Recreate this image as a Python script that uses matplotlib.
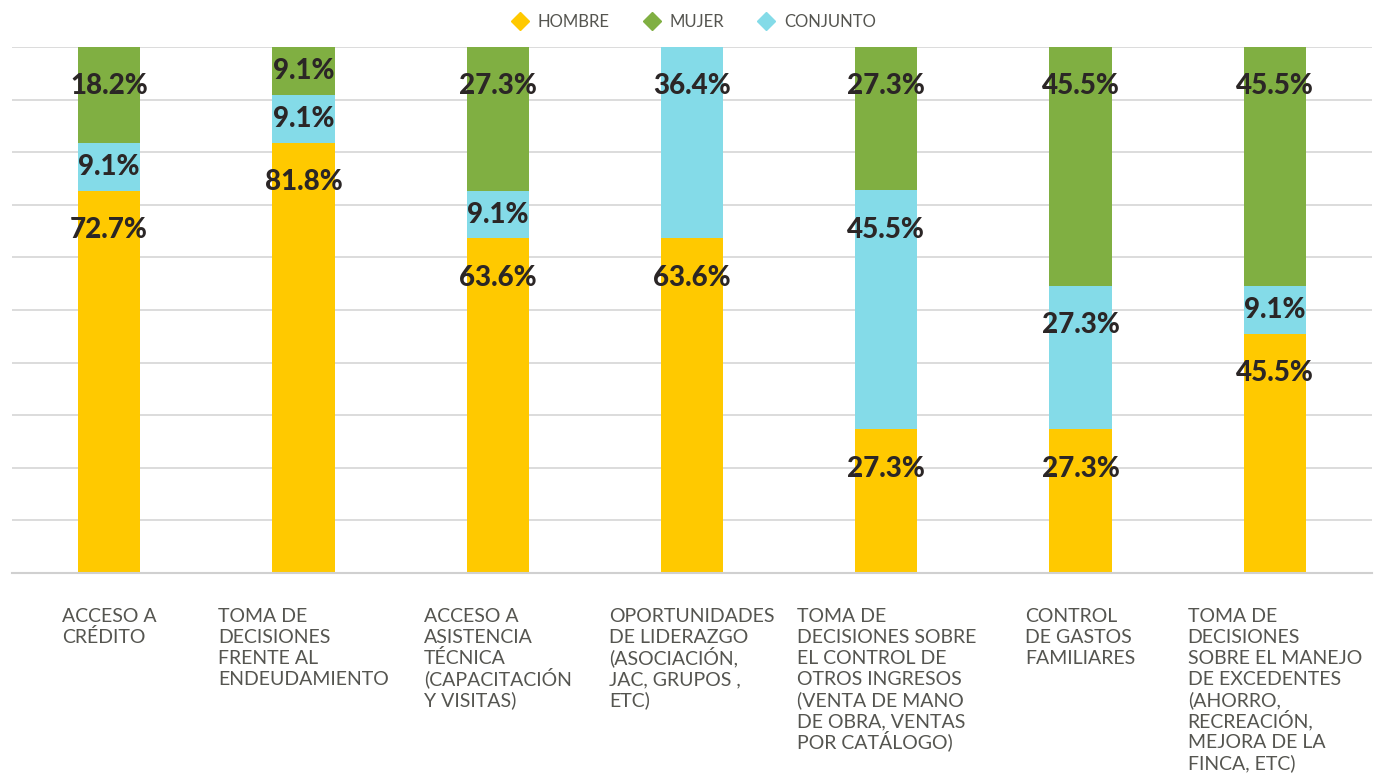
import numpy as np
import matplotlib.pyplot as plt
from matplotlib.lines import Line2D

# datos
categorias = ['ACCESO A\nCRÉDITO',
              'TOMA DE\nDECISIONES\nFRENTE AL\nENDEUDAMIENTO',
              'ACCESO A\nASISTENCIA\nTÉCNICA\n(CAPACITACIÓN\nY VISITAS)',
              'OPORTUNIDADES\nDE LIDERAZGO\n(ASOCIACIÓN,\nJAC, GRUPOS ,\nETC)',
              'TOMA DE\nDECISIONES SOBRE\nEL CONTROL DE\nOTROS INGRESOS\n(VENTA DE MANO\nDE OBRA, VENTAS\nPOR CATÁLOGO)',
              'CONTROL\nDE GASTOS\nFAMILIARES',
              'TOMA DE\nDECISIONES\nSOBRE EL MANEJO\nDE EXCEDENTES\n(AHORRO,\nRECREACIÓN,\nMEJORA DE LA\nFINCA, ETC)']
hombre = [72.7, 81.8, 63.6, 63.6, 27.3, 27.3, 45.5]
conjunto = [9.1, 9.1, 9.1, 36.4, 45.5, 27.3, 9.1]
mujer = [18.2, 9.1, 27.3, 0, 27.3, 45.5, 45.5]

c_hombre = '#FFC900'
c_mujer = '#80AF42'
c_conj = '#84DBE8'
c_txt = '#555550'

fig = plt.figure(figsize=(13.74, 7.74), dpi=100)
ax = fig.add_axes([12/1374, 201/774, 1360/1374, 526/774])

x = np.arange(len(categorias))
w = 0.32
series = [(hombre, c_hombre), (conjunto, c_conj), (mujer, c_mujer)]
base = np.zeros(len(x))
for vals, col in series:
    vals = np.array(vals)
    ax.bar(x, vals, w, bottom=base, color=col, zorder=2)
    for i in range(len(x)):
        if vals[i] > 0:
            top = base[i] + vals[i]
            yl = top - min(7.5, vals[i] / 2)
            ax.text(x[i], yl, f'{vals[i]:.1f}%', ha='center', va='center',
                    fontsize=20, fontweight='black', family=['Lato', 'DejaVu Sans'],
                    color='#2B2626', zorder=3)
    base = base + vals

ax.set_xlim(-0.5, len(x) - 0.5)
ax.set_ylim(0, 100)
ax.set_yticks(np.arange(0, 101, 10))
ax.yaxis.grid(True, color='#D6D6D6', linewidth=1.2, zorder=0)
ax.tick_params(left=False, labelleft=False, bottom=False, labelbottom=False)
for s in ['left', 'right', 'top']:
    ax.spines[s].set_visible(False)
ax.spines['bottom'].set_color('#D0D0D0')
ax.spines['bottom'].set_linewidth(1.5)

# etiquetas del eje x, linea por linea
r = fig.canvas.get_renderer()
paso = 21 * 72 / 100
for i, lab in enumerate(categorias):
    lineas = lab.split('\n')
    ancho = 0
    for ln in lineas:
        t = fig.text(0, 0, ln, fontsize=14, family='Lato')
        ancho = max(ancho, t.get_window_extent(r).width * 72 / 100)
        t.remove()
    for k, ln in enumerate(lineas):
        ax.annotate(ln, xy=(x[i], 0), xycoords='data',
                    xytext=(-ancho / 2, -49 * 72 / 100 - k * paso), textcoords='offset points',
                    ha='left', va='baseline', fontsize=14, color=c_txt, family='Lato',
                    annotation_clip=False)

handles = [Line2D([], [], marker='D', linestyle='', markersize=9, color=c_hombre, label='HOMBRE'),
           Line2D([], [], marker='D', linestyle='', markersize=9, color=c_mujer, label='MUJER'),
           Line2D([], [], marker='D', linestyle='', markersize=9, color=c_conj, label='CONJUNTO')]
leg = fig.legend(handles=handles, loc='center', bbox_to_anchor=(0.502, 0.972), ncol=3,
                 frameon=False, handletextpad=0.1, columnspacing=1.5,
                 prop={'family': 'Lato', 'size': 12})
for t in leg.get_texts():
    t.set_color(c_txt)

fig.savefig('out.png', dpi=100)
